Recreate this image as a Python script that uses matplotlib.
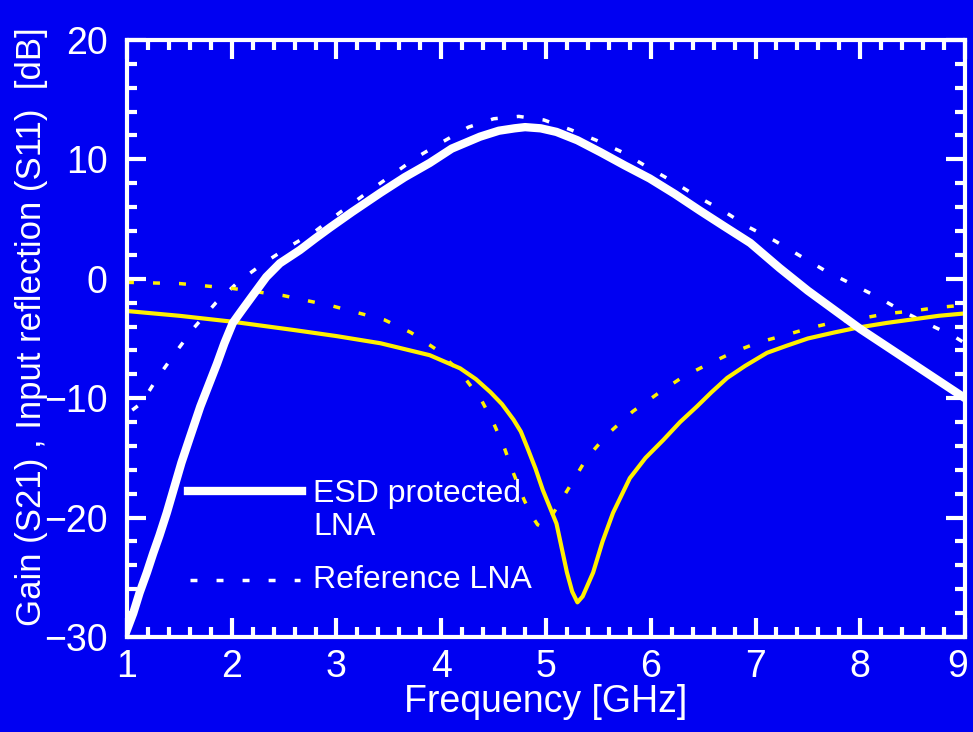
import matplotlib.pyplot as plt
import matplotlib.transforms as mtransforms
import numpy as np

plt.rcParams['font.family'] = ['Liberation Sans', 'DejaVu Sans']

# ESD protected LNA: gain S21
esd_s21_f = [1.0, 1.06, 1.12, 1.19, 1.25, 1.31, 1.38, 1.45, 1.52, 1.6, 1.7, 1.78, 1.86, 1.93,
             2.01, 2.1, 2.2, 2.33, 2.46, 2.65, 2.8, 2.94, 3.15, 3.42, 3.65, 3.89, 4.1, 4.37,
             4.55, 4.7, 4.8, 4.95, 5.1, 5.3, 5.52, 5.75, 5.99, 6.23, 6.47, 6.7, 6.95, 7.23,
             7.5, 7.75, 8.0, 8.25, 8.5, 8.75, 9.0]
esd_s21 = [-29.4, -28.0, -26.3, -24.6, -23.0, -21.5, -19.6, -17.5, -15.4, -13.3, -10.7, -8.9,
           -7.1, -5.4, -3.7, -2.6, -1.4, 0.15, 1.3, 2.4, 3.4, 4.3, 5.6, 7.2, 8.5, 9.7, 10.9,
           11.9, 12.4, 12.6, 12.7, 12.6, 12.3, 11.6, 10.6, 9.5, 8.4, 7.1, 5.7, 4.4, 3.0, 0.9,
           -1.0, -2.6, -4.2, -5.65, -7.1, -8.55, -10.0]

# ESD protected LNA: input reflection S11
esd_s11_f = [1.0, 1.5, 2.01, 2.6, 3.0, 3.42, 3.89, 4.18, 4.33, 4.47, 4.58, 4.69, 4.76, 4.82,
             4.9, 4.97, 5.1, 5.2, 5.25, 5.3, 5.35, 5.45, 5.54, 5.64, 5.8, 5.95, 6.12, 6.28,
             6.44, 6.58, 6.73, 6.9, 7.11, 7.3, 7.5, 7.75, 7.97, 8.25, 8.5, 8.75, 9.0]
esd_s11 = [-2.7, -3.1, -3.6, -4.3, -4.8, -5.4, -6.4, -7.5, -8.4, -9.5, -10.5, -11.8, -12.8,
           -14.1, -15.9, -17.7, -20.5, -24.6, -26.2, -27.1, -26.6, -24.6, -22.0, -19.6, -16.7,
           -15.0, -13.5, -12.0, -10.7, -9.5, -8.3, -7.3, -6.2, -5.6, -5.0, -4.5, -4.1, -3.7,
           -3.4, -3.1, -2.9]

# Reference LNA: gain S21
ref_s21_f = [1.05, 1.14, 1.29, 1.47, 1.64, 1.85, 2.07, 2.32, 2.56, 2.8, 3.04, 3.29, 3.53,
             3.77, 4.02, 4.26, 4.5, 4.74, 4.98, 5.23, 5.48, 5.73, 5.96, 6.2, 6.44, 6.69,
             6.94, 7.18, 7.41, 7.67, 7.91, 8.16, 8.4, 8.65, 8.89, 9.0]
ref_s21 = [-11.0, -10.4, -8.3, -6.1, -4.1, -2.0, -0.2, 1.4, 2.75, 4.0, 5.6, 7.2, 8.7,
           10.2, 11.5, 12.7, 13.4, 13.6, 13.3, 12.5, 11.6, 10.6, 9.4, 8.2, 6.9, 5.7,
           4.3, 3.2, 2.0, 0.65, -0.4, -1.5, -2.7, -3.8, -4.8, -5.4]

# Reference LNA: input reflection S11
ref_s11_f = [1.0, 1.5, 2.0, 2.49, 2.97, 3.46, 3.71, 3.95, 4.18, 4.38, 4.5, 4.6, 4.69,
             4.79, 4.86, 4.92, 4.97, 5.03, 5.1, 5.24, 5.39, 5.59, 5.83, 6.07, 6.31, 6.56,
             6.8, 7.04, 7.29, 7.53, 7.77, 8.02, 8.27, 8.5, 8.74, 9.0]
ref_s11 = [-0.3, -0.4, -0.8, -1.4, -2.3, -3.45, -4.5, -5.9, -7.8, -10.1, -12.1, -14.1, -16.3,
           -18.5, -19.8, -20.6, -20.8, -20.2, -19.2, -17.2, -15.0, -13.0, -11.1, -9.6, -8.2,
           -7.1, -6.1, -5.3, -4.7, -4.1, -3.6, -3.3, -2.9, -2.7, -2.4, -2.2]

legend_labels = ['ESD protected\nLNA', 'Reference LNA']

bg = '#0000F2'
yellow = '#FFF000'
dotted = (0, (2, 5.5))

fig = plt.figure(figsize=(9.73, 7.32), dpi=100)
fig.patch.set_facecolor(bg)
ax = fig.add_axes([0.1305, 0.1298, 0.8613, 0.8156])
ax.set_facecolor(bg)

ax.plot(ref_s21_f, ref_s21, color='white', lw=2.5, linestyle=dotted)
ax.plot(ref_s11_f, ref_s11, color=yellow, lw=2.5, linestyle=dotted)
ax.plot(esd_s11_f, esd_s11, color=yellow, lw=3, solid_joinstyle='round')
ax.plot(esd_s21_f, esd_s21, color='white', lw=6, solid_joinstyle='round')

# legend drawn by hand (handle sits beside the first text line)
ax.plot([0.073, 0.209], [0.245, 0.245], transform=ax.transAxes, color='white', lw=6)
ax.text(0.222, 0.265, legend_labels[0], transform=ax.transAxes, color='white',
        fontsize=23, va='top', ha='left', linespacing=1.15)
ax.plot([0.075, 0.207], [0.096, 0.096], transform=ax.transAxes, color='white', lw=2.5,
        linestyle=dotted)
ax.text(0.222, 0.096, legend_labels[1], transform=ax.transAxes, color='white',
        fontsize=23, va='center', ha='left')

ax.set_xlim(1, 9)
ax.set_ylim(-30, 20)
ax.set_xticks(np.arange(1, 10, 1))
ax.set_xticks(np.arange(1, 9.01, 0.2), minor=True)
ax.set_yticks(np.arange(-30, 21, 10))
ax.set_yticks(np.arange(-30, 20.1, 2), minor=True)
ax.tick_params(which='both', direction='in', top=True, right=True, color='white',
               width=3, labelcolor='white', labelsize=27)
ax.tick_params(which='major', length=14)
ax.tick_params(axis='y', which='major', pad=14)
ax.tick_params(axis='x', which='major', pad=9)
ax.tick_params(which='minor', length=7)
for s in ax.spines.values():
    s.set_color('white')
    s.set_linewidth(3)

# last x tick label sits against the figure edge
fig.canvas.draw()
last = ax.get_xticklabels()[-1]
last.set_transform(last.get_transform() +
                   mtransforms.ScaledTranslation(-7 / 100, 0, fig.dpi_scale_trans))

ax.set_xlabel('Frequency [GHz]', color='white', fontsize=27)
ax.xaxis.set_label_coords(0.5, -0.078)
ax.set_ylabel('Gain (S21) , Input reflection (S11)  [dB]', color='white', fontsize=25)
ax.yaxis.set_label_coords(-0.094, 0.52)

fig.savefig('out.png', dpi=100, facecolor=bg)
